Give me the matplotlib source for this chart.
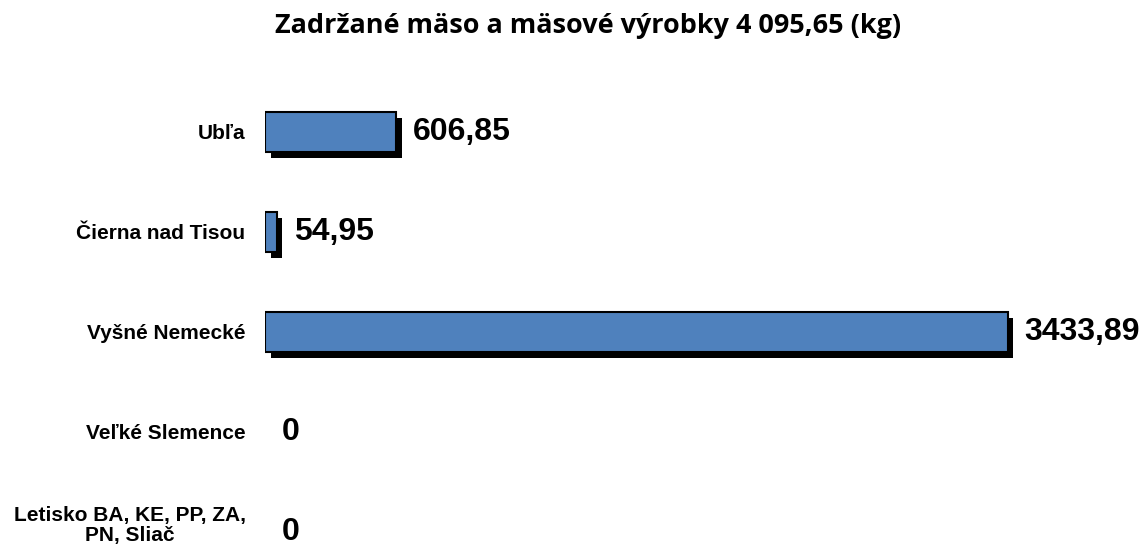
import matplotlib.pyplot as plt
import matplotlib.patheffects as pe

# údaje z grafu
miesta = ["Ubľa", "Čierna nad Tisou", "Vyšné Nemecké", "Veľké Slemence",
          "Letisko BA, KE, PP, ZA,\nPN, Sliač"]
hodnoty = [606.85, 54.95, 3433.89, 0, 0]
popisky = ["606,85", "54,95", "3433,89", "0", "0"]
nazov = "Zadržané mäso a mäsové výrobky 4 095,65 (kg)"

plt.rcParams['font.family'] = ['Liberation Sans', 'DejaVu Sans']

fig = plt.figure(figsize=(11.46, 5.52), dpi=100)
ax = fig.add_axes([265 / 1146, 0, (1022 - 265) / 1146, (552 - 82) / 552])

pozicie = list(range(len(miesta)))
bars = ax.barh(pozicie, hodnoty, height=0.4, color="#4F81BD",
               edgecolor="black", linewidth=1.5)
for b, v in zip(bars, hodnoty):
    if v == 0:
        b.set_visible(False)
    else:
        b.set_path_effects([pe.SimplePatchShadow(offset=(4, -4), shadow_rgbFace="black", alpha=1.0),
                            pe.Normal()])

for y, v, t in zip(pozicie, hodnoty, popisky):
    ax.annotate(t, (v, y), xytext=(12, 0), textcoords="offset points",
                ha="left", va="center", fontsize=23, fontweight="bold")

# popisky kategorii (dvojriadkovy posunuty trochu vyssie)
for y, m in zip(pozicie, miesta):
    dvoj = "\n" in m
    ax.annotate(m, (0, y), xytext=(-14, 4.5 if dvoj else 0), textcoords="offset points",
                ha="right", va="center" if dvoj else "center_baseline",
                fontsize=15, fontweight="bold",
                multialignment="center", linespacing=1.05, annotation_clip=False)

ax.set_xlim(0, 3500)
ax.set_ylim(4.2, -0.5)
ax.set_xticks([])
ax.set_yticks([])
for s in ax.spines.values():
    s.set_visible(False)

# nadpis - velkost podla sirky v predlohe (~624 px)
titul = fig.text(588 / 1146, 1 - 33 / 552, nazov, ha="center", va="baseline",
                 fontsize=16, fontweight="bold", family=["Open Sans", "DejaVu Sans"])
fig.canvas.draw()
sirka = titul.get_window_extent().width
titul.set_fontsize(16 * 624 / sirka)

fig.savefig("out.png", dpi=100)
